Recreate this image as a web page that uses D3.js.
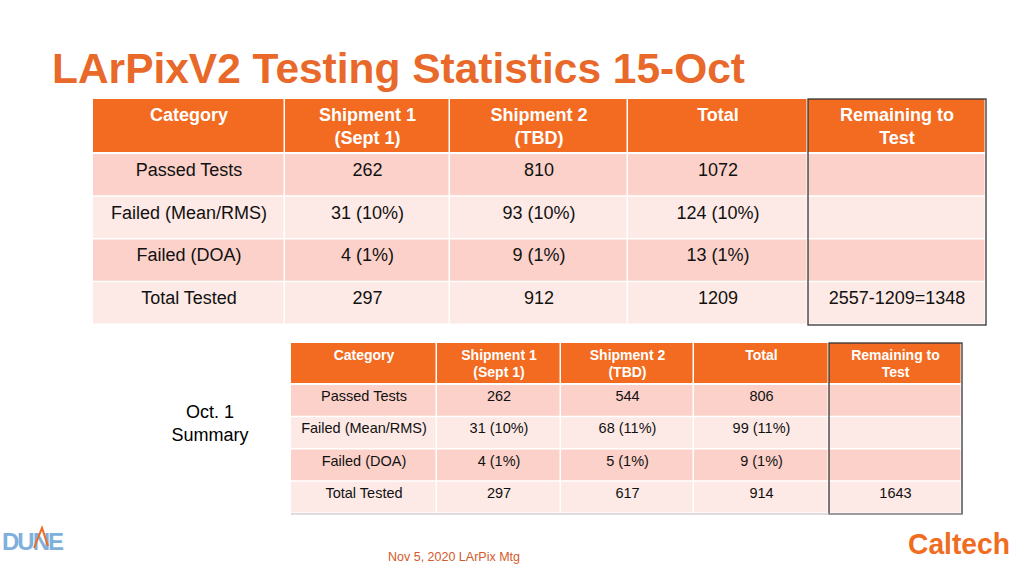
<!DOCTYPE html>
<html><head><meta charset="utf-8">
<script src="https://cdn.jsdelivr.net/npm/d3@7"></script>
<style>body{margin:0;background:#fff;font-family:"Liberation Sans",Arial,sans-serif}</style>
</head><body><svg id="c" width="1024" height="576"></svg>
<script>
const headers = ["Category","Shipment 1\n(Sept 1)","Shipment 2\n(TBD)","Total","Remaining to\nTest"];
const categories = ["Passed Tests","Failed (Mean/RMS)","Failed (DOA)","Total Tested"];
const octShip1 = ["262","31 (10%)","4 (1%)","297"];
const octShip2 = ["810","93 (10%)","9 (1%)","912"];
const octTotal = ["1072","124 (10%)","13 (1%)","1209"];
const octRemain = ["","","","2557-1209=1348"];
const sepShip1 = ["262","31 (10%)","4 (1%)","297"];
const sepShip2 = ["544","68 (11%)","5 (1%)","617"];
const sepTotal = ["806","99 (11%)","9 (1%)","914"];
const sepRemain = ["","","","1643"];

const svg = d3.select("#c");
const ORANGE = "#f26b21";
svg.append("text").attr("x",52).attr("y",83).attr("fill","#e8692a")
  .attr("font-size",42).attr("font-weight","bold").attr("textLength",693).attr("lengthAdjust","spacingAndGlyphs")
  .text("LArPixV2 Testing Statistics 15-Oct");

function table(cfg){
  const cols = [categories, cfg.s1, cfg.s2, cfg.tot, cfg.rem];
  const x = d3.scaleOrdinal().domain(d3.range(6)).range(cfg.xs);
  const y = d3.scaleLinear().domain([0,4]).range([cfg.rowTop, cfg.bottom]);
  const g = svg.append("g");
  headers.forEach((h,i)=>{
    g.append("rect").attr("x",x(i)).attr("y",cfg.top).attr("width",x(i+1)-x(i)-1.5)
      .attr("height",cfg.rowTop-cfg.top-2).attr("fill",ORANGE);
    h.split("\n").forEach((l,k)=>g.append("text").attr("x",(x(i)+x(i+1))/2)
      .attr("y",cfg.top+cfg.hy+k*cfg.lh).attr("text-anchor","middle").attr("fill","#fff")
      .attr("font-weight","bold").attr("font-size",cfg.hfs).text(l));
  });
  for(let r=0;r<4;r++){
    for(let i=0;i<5;i++){
      g.append("rect").attr("x",x(i)).attr("y",y(r)).attr("width",x(i+1)-x(i)-1.5)
        .attr("height",y(r+1)-y(r)-1.5).attr("fill",r%2==0?"#fbd1c9":"#fde9e5");
      g.append("text").attr("x",(x(i)+x(i+1))/2).attr("y",(y(r)+y(r+1))/2+cfg.dy)
        .attr("text-anchor","middle").attr("fill","#111").attr("font-size",cfg.fs).text(cols[i][r]);
    }
  }
  g.append("rect").attr("x",x(4)).attr("y",cfg.top).attr("width",x(5)-x(4)).attr("height",cfg.bottom-cfg.top)
    .attr("fill","none").attr("stroke","#333").attr("stroke-width",1.3);
}
table({xs:[93,285,450,628,808,986],top:99,rowTop:154,bottom:325,s1:octShip1,s2:octShip2,tot:octTotal,rem:octRemain,fs:18,hfs:18,hy:22,lh:23,dy:0.5});
table({xs:[291,437,561,694,829,962],top:343,rowTop:385,bottom:514,s1:sepShip1,s2:sepShip2,tot:sepTotal,rem:sepRemain,fs:14.5,hfs:14,hy:17,lh:17,dy:0});
svg.append("line").attr("x1",291).attr("x2",962).attr("y1",514).attr("y2",514).attr("stroke","#bbb");

svg.append("text").attr("x",210).attr("y",418).attr("text-anchor","middle").attr("font-size",18).text("Oct. 1");
svg.append("text").attr("x",210).attr("y",441).attr("text-anchor","middle").attr("font-size",18).text("Summary");
svg.append("text").attr("x",454).attr("y",561).attr("text-anchor","middle").attr("font-size",12.5).attr("fill","#d35a2a").text("Nov 5, 2020 LArPix Mtg");
svg.append("text").attr("x",908).attr("y",554).attr("font-size",30).attr("font-weight","bold").attr("fill","#f06c1f").attr("textLength",102).attr("lengthAdjust","spacingAndGlyphs").text("Caltech");
svg.append("text").attr("x",2).attr("y",550).attr("font-size",24).attr("font-weight","bold").attr("fill","#7fb0dc").attr("letter-spacing",-2).text("DUNE");
svg.append("path").attr("d","M34,548 L42,528 L48,546").attr("fill","none").attr("stroke","#ef6a22").attr("stroke-width",2);
</script></body></html>
